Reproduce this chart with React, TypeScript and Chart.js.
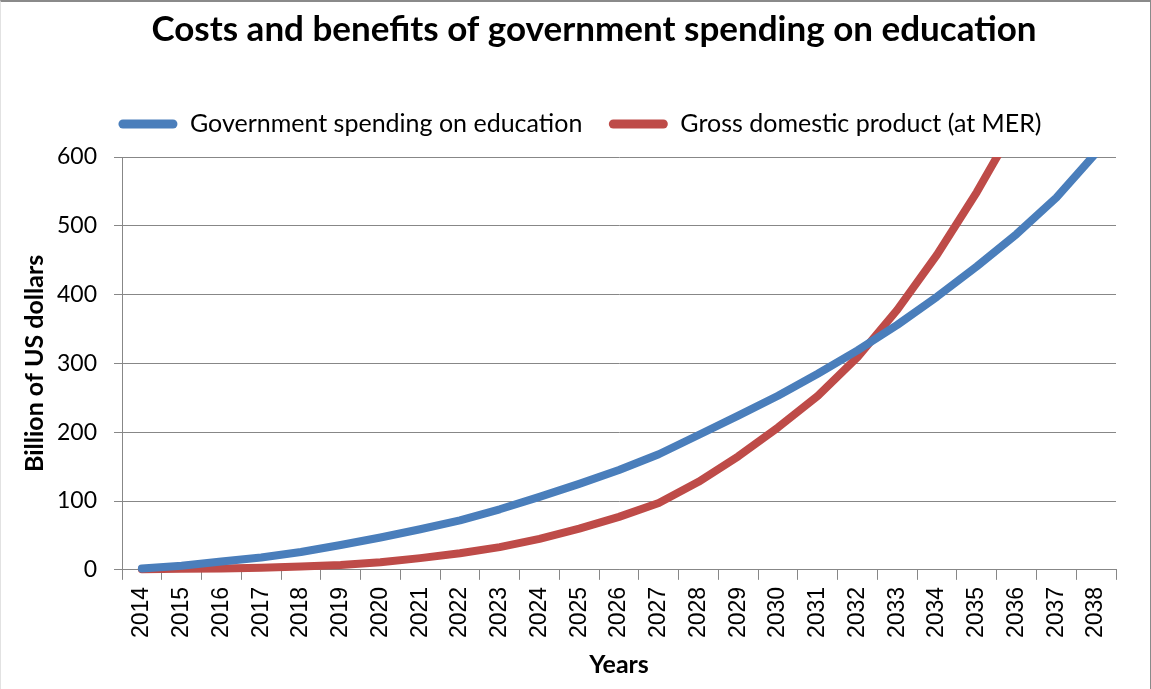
import React, { useEffect, useRef } from "react";
import { Chart, registerables, layouts } from "chart.js";

Chart.register(...registerables);

const TITLE = "Costs and benefits of government spending on education";
const Y_TITLE = "Billion of US dollars";
const X_TITLE = "Years";

const years = [
  "2014", "2015", "2016", "2017", "2018", "2019", "2020", "2021", "2022",
  "2023", "2024", "2025", "2026", "2027", "2028", "2029", "2030", "2031",
  "2032", "2033", "2034", "2035", "2036", "2037", "2038",
];

const govSpending = [
  2, 6, 12, 18, 26, 36, 47, 59, 72, 88, 106, 125, 145, 168, 196, 224, 253,
  285, 319, 356, 397, 441, 488, 541, 606,
];

const gdp = [
  1, 1.5, 2, 3, 5, 7, 11, 17, 24, 33, 45, 60, 77, 97, 128, 165, 207, 253,
  309, 378, 458, 549, 650, 760, 890,
];

const BLUE = "#4a7ebb";
const RED = "#be4b48";
const GRID = "#878787";

// empty layout box that adds room between the legend and the plot area,
// plus small horizontal nudges of the title and legend blocks
const layoutTweaks = {
  id: "layoutTweaks",
  start(chart: any) {
    const box: any = {
      position: "top",
      weight: 500,
      fullSize: true,
      options: { stackWeight: 1 },
      width: 0,
      height: 0,
      left: 0,
      top: 0,
      right: 0,
      bottom: 0,
      isHorizontal() {
        return true;
      },
      update(maxWidth: number) {
        this.width = maxWidth;
        this.height = 10.5;
        return { width: this.width, height: this.height };
      },
      draw() {},
    };
    layouts.configure(chart, box, { position: "top", weight: 500, fullSize: true });
    layouts.addBox(chart, box);
  },
  afterLayout(chart: any) {
    if (chart.titleBlock) {
      chart.titleBlock.left += 26;
      chart.titleBlock.right += 26;
    }
    if (chart.legend) {
      chart.legend.left += 12;
      chart.legend.right += 12;
    }
  },
};

export default function App() {
  const ref = useRef<HTMLCanvasElement | null>(null);

  useEffect(() => {
    document.body.style.margin = "0";
    const canvas = ref.current;
    if (!canvas) return;
    const chart = new Chart(canvas, {
      type: "line",
      data: {
        labels: years,
        datasets: [
          {
            label: "Government spending on education",
            data: govSpending,
            borderColor: BLUE,
            backgroundColor: BLUE,
            borderWidth: 8,
            pointRadius: 0,
            tension: 0,
            borderCapStyle: "round",
            borderJoinStyle: "round",
            clip: { left: 10, right: 10, top: 0, bottom: 10 },
          },
          {
            label: "Gross domestic product (at MER)",
            data: gdp,
            borderColor: RED,
            backgroundColor: RED,
            borderWidth: 8,
            pointRadius: 0,
            tension: 0,
            borderCapStyle: "round",
            borderJoinStyle: "round",
            clip: { left: 10, right: 10, top: 0, bottom: 10 },
          },
        ],
      },
      plugins: [layoutTweaks],
      options: {
        responsive: false,
        animation: false,
        devicePixelRatio: 1,
        layout: { padding: { left: 20, right: 54, top: 0, bottom: 0 } },
        plugins: {
          title: {
            display: true,
            text: TITLE,
            color: "#000",
            font: { family: "Lato", size: 35, weight: "bold" },
            padding: { top: 9, bottom: 34 },
          },
          legend: {
            display: true,
            position: "top",
            labels: {
              color: "#000",
              font: { family: "Lato", size: 25 },
              boxWidth: 59,
              boxHeight: 9,
              useBorderRadius: true,
              borderRadius: 4.5,
              padding: 26.5,
              generateLabels: (ch: any) => {
                const items = Chart.defaults.plugins.legend.labels.generateLabels(ch);
                return items.map((it: any) => ({ ...it, lineWidth: 0 }));
              },
            },
          },
          tooltip: { enabled: false },
        },
        scales: {
          x: {
            offset: true,
            grid: {
              display: true,
              offset: true,
              drawOnChartArea: false,
              drawTicks: true,
              tickLength: 10,
              color: GRID,
              lineWidth: 1,
            },
            border: { display: true, color: GRID, width: 1 },
            ticks: {
              color: "#000",
              font: { family: "Liberation Sans", size: 23 },
              minRotation: 90,
              maxRotation: 90,
              autoSkip: false,
              padding: 7,
            },
            title: {
              display: true,
              text: X_TITLE,
              color: "#000",
              font: { family: "Lato", size: 25, weight: "bold" },
              padding: { top: 5, bottom: 9 },
            },
          },
          y: {
            min: 0,
            max: 600,
            grid: {
              display: true,
              color: GRID,
              lineWidth: 1,
              drawTicks: true,
              tickLength: 8,
            },
            border: { display: true, color: GRID, width: 1 },
            ticks: {
              stepSize: 100,
              color: "#000",
              font: { family: "Lato", size: 23 },
              padding: 17,
            },
            title: {
              display: true,
              text: Y_TITLE,
              color: "#000",
              font: { family: "Lato", size: 25, weight: "bold" },
              padding: { top: 0, bottom: 0 },
            },
            afterFit: (scale: any) => {
              scale.width = 102;
            },
          },
        },
      },
    });
    return () => chart.destroy();
  }, []);

  return (
    <div
      style={{
        position: "absolute",
        left: 0,
        top: 0,
        width: 1151,
        height: 689,
        overflow: "hidden",
        background: "#fff",
      }}
    >
      <canvas ref={ref} width={1170} height={689} style={{ width: 1170, height: 689, display: "block" }} />
      <div
        style={{
          position: "absolute",
          left: 0,
          top: 0,
          width: 1149,
          height: 700,
          borderTop: "2px solid #8a8a8a",
          borderRight: "1px solid #8a8a8a",
          borderLeft: "1px solid #e2e2e2",
          pointerEvents: "none",
        }}
      />
    </div>
  );
}
